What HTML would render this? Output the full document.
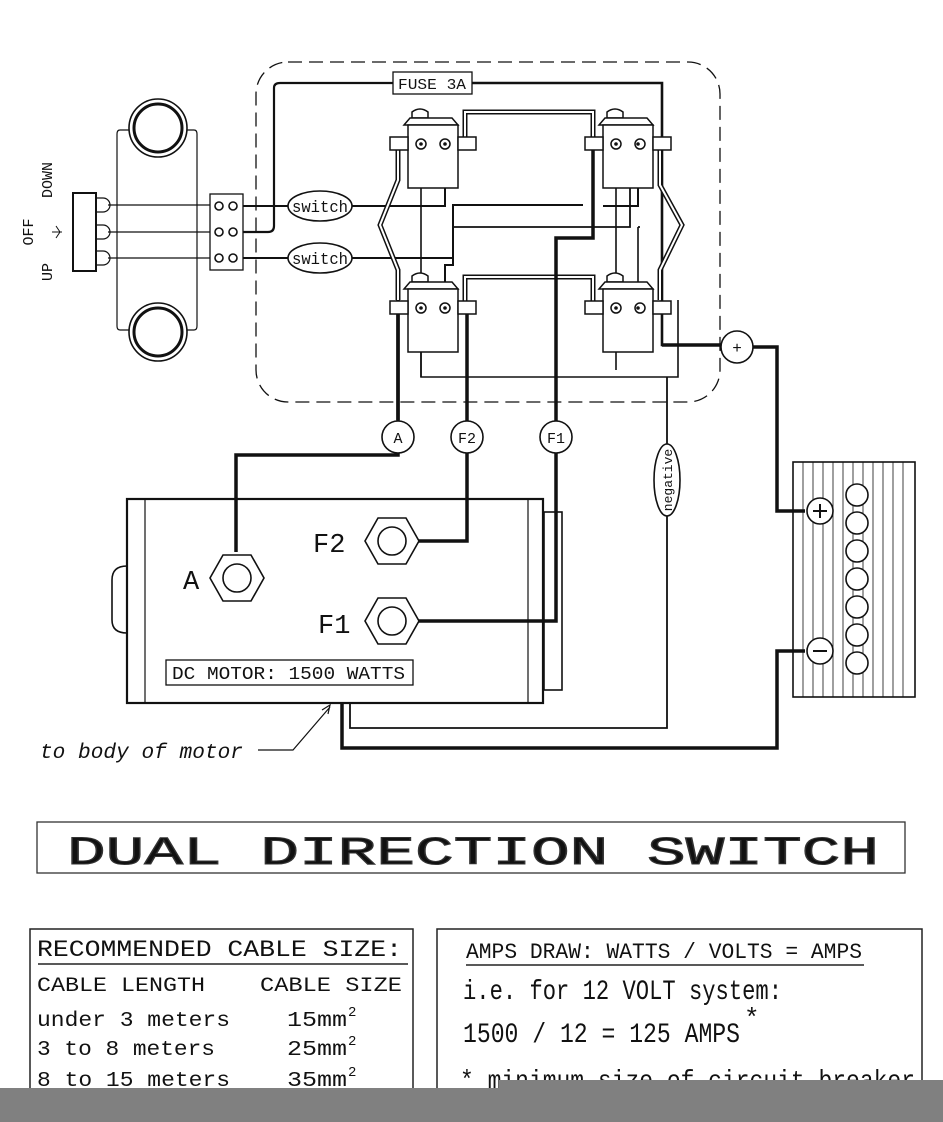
<!DOCTYPE html>
<html><head><meta charset="utf-8"><style>
html,body{margin:0;padding:0;background:#fff;}
svg{display:block;}
text{font-family:"Liberation Mono","DejaVu Sans Mono",monospace;fill:#111;}
</style></head><body>
<svg width="943" height="1122" viewBox="0 0 943 1122" xmlns="http://www.w3.org/2000/svg">
<rect width="943" height="1122" fill="#fff"/>
<g fill="none" stroke="#111" stroke-width="1.6">
<rect x="256" y="62" width="464" height="340" rx="32" stroke-dasharray="14,7" stroke-width="1.3"/>
<circle cx="158" cy="128" r="29"/><circle cx="158" cy="128" r="24" stroke-width="3"/>
<circle cx="158" cy="332" r="29"/><circle cx="158" cy="332" r="24" stroke-width="3"/>
<path d="M129 130 H120 Q117 130 117 134 V326 Q117 330 120 330 H129" stroke-width="1.2"/>
<path d="M187 130 H194 Q197 130 197 134 V326 Q197 330 194 330 H187" stroke-width="1.2"/>
<rect x="73" y="193" width="23" height="78" stroke-width="2"/>
<path d="M96 198 h7 a6 6 0 0 1 0 14 h-7 M96 225 h7 a6 6 0 0 1 0 14 h-7 M96 251 h7 a6 6 0 0 1 0 14 h-7" stroke-width="1.2"/>
<path d="M108 205 H210 M108 232 H210 M108 258 H210" stroke-width="1.3"/>
<rect x="210" y="194" width="33" height="76" stroke-width="1.3"/>
<circle cx="219" cy="206" r="4"/><circle cx="233" cy="206" r="4"/>
<circle cx="219" cy="232" r="4"/><circle cx="233" cy="232" r="4"/>
<circle cx="219" cy="258" r="4"/><circle cx="233" cy="258" r="4"/>
<path d="M243 232 H268 Q274 232 274 226 V88 Q274 83 280 83 H393" stroke-width="2.2"/>
<path d="M472 83 H662 V345 H722" stroke-width="2.6"/>
<path d="M662 345 H722" stroke-width="3.5"/>
<path d="M243 206 H288 M352 206 H445 V144" stroke-width="2"/>
<path d="M453 206 V205 H583 M603 206 H638 V144" stroke-width="2"/>
<path d="M453 227 H630 V172 M638 227 H640" stroke-width="1.8"/>
<path d="M453 205 V265 H445 V308 M243 258 H288 M352 258 H453" stroke-width="2"/>
<path d="M638 227 V308 M616 144 V370 M421 144 V377 H678 V300" stroke-width="1.6"/>
<path d="M421 308 V377" stroke-width="1.6"/>
<path d="M465 143 V112 H593 V143" stroke-width="5"/><path d="M465 143 V112 H593 V143" stroke="#fff" stroke-width="2"/>
<path d="M465 307 V277 H593 V307" stroke-width="5"/><path d="M465 307 V277 H593 V307" stroke="#fff" stroke-width="2"/>
<path d="M398 150 V180 L380 225 L398 270 V300" stroke-width="5"/><path d="M398 150 V180 L380 225 L398 270 V300" stroke="#fff" stroke-width="2"/>
<path d="M660 150 V185 L682 225 L660 270 V300" stroke-width="5"/><path d="M660 150 V185 L682 225 L660 270 V300" stroke="#fff" stroke-width="2"/>
<path d="M398 300 V455 H236 V552" stroke-width="3.5"/>
<path d="M467 307 V421" stroke-width="3.5"/><path d="M467 453 V541 H418" stroke-width="3.5"/>
<path d="M593 143 V238 H556 V421" stroke-width="3.5"/><path d="M556 453 V621 H418" stroke-width="3.5"/>
<path d="M398 420 V300" stroke-width="3.5"/>
<path d="M753 347 H777 V511 H805" stroke-width="3.5"/>
<path d="M805 651 H777 V748 H342 V703" stroke-width="3.5"/>
<path d="M667 377 V445 M667 515 V728 H350 V703" stroke-width="1.8"/>
<rect x="127" y="499" width="416" height="204" stroke-width="2.2"/>
<path d="M145 499 V703 M528 499 V703" stroke-width="1.2"/>
<rect x="544" y="512" width="18" height="178" stroke-width="1.6"/>
<path d="M127 566 Q112 566 112 580 V620 Q112 633 127 633" stroke-width="1.6"/>
<rect x="166" y="660" width="247" height="25" stroke-width="1.3"/>
<path d="M258 750 H293 L330 707 M322 710 L330 705 L328 714" stroke-width="1.2"/>
<circle cx="398" cy="437" r="16" fill="#fff"/><circle cx="467" cy="437" r="16" fill="#fff"/><circle cx="556" cy="437" r="16" fill="#fff"/>
<ellipse cx="667" cy="480" rx="13" ry="36" fill="#fff"/>
<circle cx="737" cy="347" r="16" fill="#fff"/>
<ellipse cx="320" cy="206" rx="32" ry="15" fill="#fff"/>
<ellipse cx="320" cy="258" rx="32" ry="15" fill="#fff"/>
<rect x="393" y="72" width="79" height="22" fill="#fff" stroke-width="1.3"/>
<rect x="793" y="462" width="122" height="235" stroke-width="1.6"/>
<path d="M803 462 V697 M813 462 V697 M823 462 V697 M833 462 V697 M843 462 V697 M853 462 V697 M863 462 V697 M873 462 V697 M883 462 V697 M893 462 V697 M903 462 V697" stroke-width="0.8"/>
<g fill="#fff" stroke-width="1.6">
<circle cx="820" cy="511" r="13"/><circle cx="820" cy="651" r="13"/>
<circle cx="857" cy="495" r="11"/><circle cx="857" cy="523" r="11"/><circle cx="857" cy="551" r="11"/><circle cx="857" cy="579" r="11"/><circle cx="857" cy="607" r="11"/><circle cx="857" cy="635" r="11"/><circle cx="857" cy="663" r="11"/>
</g>
<path d="M813 511 h14 M820 504 v14 M813 651 h14" stroke-width="2"/>
<g fill="#fff" stroke-width="1.6">
<polygon points="210,578 223,555 251,555 264,578 251,601 223,601"/><circle cx="237" cy="578" r="14"/>
<polygon points="365,541 378,518 406,518 419,541 406,564 378,564"/><circle cx="392" cy="541" r="14"/>
<polygon points="365,621 378,598 406,598 419,621 406,644 378,644"/><circle cx="392" cy="621" r="14"/>
</g>
</g>
<g fill="#fff" stroke="#111" stroke-width="1.5">
<g id="sol">
<path d="M412 112 Q420 106 428 112 V118 H412 Z"/>
<path d="M404 125 L410 118 H452 L458 125 Z"/>
<rect x="408" y="125" width="50" height="63"/>
<rect x="390" y="137" width="18" height="13"/><rect x="458" y="137" width="18" height="13"/>
<circle cx="421" cy="144" r="5"/><circle cx="445" cy="144" r="5"/>
</g>
<use href="#sol" x="195" y="0"/>
<use href="#sol" x="0" y="164"/>
<use href="#sol" x="195" y="164"/>
</g>
<g fill="#111"><circle cx="421" cy="144" r="1.8"/><circle cx="445" cy="144" r="1.8"/><circle cx="616" cy="144" r="1.8"/><circle cx="638" cy="144" r="1.8"/><circle cx="421" cy="308" r="1.8"/><circle cx="445" cy="308" r="1.8"/><circle cx="616" cy="308" r="1.8"/><circle cx="638" cy="308" r="1.8"/></g>
<text x="398" y="89" font-size="15" textLength="68" lengthAdjust="spacingAndGlyphs">FUSE 3A</text>
<text x="292" y="212" font-size="17" textLength="56" lengthAdjust="spacingAndGlyphs">switch</text>
<text x="292" y="264" font-size="17" textLength="56" lengthAdjust="spacingAndGlyphs">switch</text>
<text x="398" y="443" font-size="15" text-anchor="middle">A</text>
<text x="467" y="443" font-size="15" text-anchor="middle">F2</text>
<text x="556" y="443" font-size="15" text-anchor="middle">F1</text>
<text x="737" y="353" font-size="16" text-anchor="middle">+</text>
<text transform="translate(672,480) rotate(-90)" font-size="13" text-anchor="middle">negative</text>
<text x="183" y="589" font-size="27" font-family="Liberation Serif">A</text>
<text x="313" y="552" font-size="27" font-family="Liberation Serif">F2</text>
<text x="318" y="633" font-size="27" font-family="Liberation Serif">F1</text>
<text x="172" y="679" font-size="18" textLength="233" lengthAdjust="spacingAndGlyphs" font-family="Liberation Sans Narrow,Liberation Sans">DC MOTOR: 1500 WATTS</text>
<text x="40" y="758" font-size="21" font-style="italic" textLength="203" lengthAdjust="spacingAndGlyphs">to body of motor</text>
<text transform="translate(33,232) rotate(-90)" font-size="15" text-anchor="middle">OFF</text>
<text transform="translate(52,180) rotate(-90)" font-size="15" text-anchor="middle">DOWN</text>
<text transform="translate(52,272) rotate(-90)" font-size="15" text-anchor="middle">UP</text>
<path d="M52 232 h10 M56 226 l4 6 l-4 6" stroke="#111" fill="none" stroke-width="1"/>
<rect x="37" y="822" width="868" height="51" fill="none" stroke="#333" stroke-width="1.3"/>
<text x="67" y="864" font-size="40" fill="#fff" stroke="#333" stroke-width="1" textLength="812" lengthAdjust="spacingAndGlyphs" font-family="Liberation Sans">DUAL DIRECTION SWITCH</text>
<rect x="30" y="929" width="383" height="170" fill="none" stroke="#222" stroke-width="1.5"/>
<line x1="38" y1="964" x2="408" y2="964" stroke="#222" stroke-width="1.4"/>
<g font-family="Liberation Sans Narrow,Liberation Serif" >
<text x="37" y="956" font-size="23" textLength="365" lengthAdjust="spacingAndGlyphs">RECOMMENDED CABLE SIZE:</text>
<text x="37" y="991" font-size="20" textLength="168" lengthAdjust="spacingAndGlyphs">CABLE LENGTH</text>
<text x="260" y="991" font-size="20" textLength="142" lengthAdjust="spacingAndGlyphs">CABLE SIZE</text>
<text x="37" y="1026" font-size="21" textLength="193" lengthAdjust="spacingAndGlyphs">under 3 meters</text>
<text x="287" y="1026" font-size="21" textLength="60" lengthAdjust="spacingAndGlyphs">15mm</text><text x="348" y="1016" font-size="14">2</text>
<text x="37" y="1055" font-size="21" textLength="178" lengthAdjust="spacingAndGlyphs">3 to 8 meters</text>
<text x="287" y="1055" font-size="21" textLength="60" lengthAdjust="spacingAndGlyphs">25mm</text><text x="348" y="1045" font-size="14">2</text>
<text x="37" y="1086" font-size="21" textLength="193" lengthAdjust="spacingAndGlyphs">8 to 15 meters</text>
<text x="287" y="1086" font-size="21" textLength="60" lengthAdjust="spacingAndGlyphs">35mm</text><text x="348" y="1076" font-size="14">2</text>
</g>
<rect x="437" y="929" width="485" height="170" fill="none" stroke="#222" stroke-width="1.5"/>
<line x1="466" y1="965" x2="864" y2="965" stroke="#222" stroke-width="1.4"/>
<g font-family="Liberation Sans Narrow,Liberation Sans">
<text x="466" y="958" font-size="22" textLength="396" lengthAdjust="spacingAndGlyphs">AMPS DRAW:   WATTS / VOLTS = AMPS</text>
<text x="463" y="999" font-size="28" textLength="319" lengthAdjust="spacingAndGlyphs">i.e. for 12 VOLT system:</text>
<text x="463" y="1042" font-size="28" textLength="277" lengthAdjust="spacingAndGlyphs">1500 / 12 = 125 AMPS</text>
<text x="744" y="1026" font-size="26">*</text>
<text x="460" y="1088" font-size="26" textLength="455" lengthAdjust="spacingAndGlyphs">* minimum size of circuit breaker</text>
</g>
<rect x="0" y="1088" width="943" height="34" fill="#808080"/>
<rect x="499" y="1080" width="444" height="10" fill="#808080"/>
</svg>
</body></html>
